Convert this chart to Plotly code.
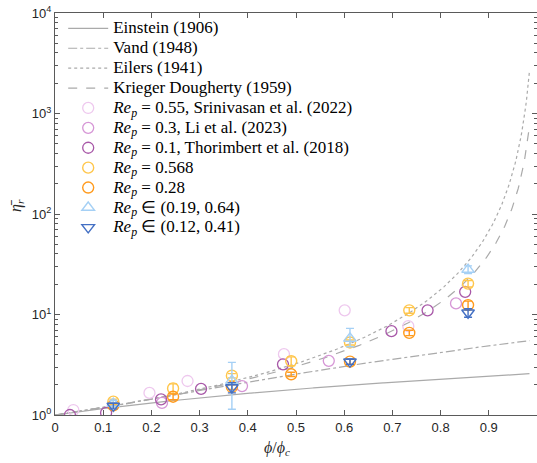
import numpy as np
import plotly.graph_objects as go

# ---------------- data ----------------
phi_c = 0.64
phi_end = 0.63

# Srinivasan et al. (2022), Re_p = 0.55
srin_x = [0.038, 0.196, 0.275, 0.475, 0.601, 0.733]
srin_y = [1.12, 1.66, 2.18, 4.03, 11.0, 7.65]
# Li et al. (2023), Re_p = 0.3
li_x = [0.222, 0.388, 0.568, 0.832]
li_y = [1.32, 1.94, 3.46, 12.9]
# Thorimbert et al. (2018), Re_p = 0.1
tho_x = [0.031, 0.106, 0.220, 0.303, 0.473, 0.698, 0.773, 0.851]
tho_y = [1.0, 1.05, 1.43, 1.82, 3.19, 6.83, 11.0, 16.8]

# Re_p = 0.568
a_x = [0.121, 0.245, 0.367, 0.490, 0.612, 0.735, 0.857]
a_y = [1.36, 1.84, 2.46, 3.44, 5.27, 11.0, 20.3]
a_e = [0.08, 0.20, 0.12, 0.35, 0.30, 0.70, 1.50]
# Re_p = 0.28
b_x = [0.121, 0.245, 0.367, 0.490, 0.612, 0.735, 0.857]
b_y = [1.25, 1.52, 1.90, 2.54, 3.40, 6.56, 12.4]
b_e = [0.05, 0.10, 0.10, 0.12, 0.20, 0.40, 1.20]
# Re_p in (0.19, 0.64)
c_x = [0.121, 0.367, 0.612, 0.857]
c_y = [1.30, 2.20, 5.78, 28.0]
c_ep = [0.10, 1.14, 1.50, 2.50]
c_em = [0.10, 1.06, 1.00, 2.50]
# Re_p in (0.12, 0.41)
d_x = [0.121, 0.367, 0.612, 0.857]
d_y = [1.23, 1.88, 3.39, 10.4]
d_e = [0.08, 0.22, 0.20, 1.00]

x_ticks = [0, 0.1, 0.2, 0.3, 0.4, 0.5, 0.6, 0.7, 0.8, 0.9, 1.0]
x_ticktext = ["0", "0.1", "0.2", "0.3", "0.4", "0.5", "0.6", "0.7", "0.8", "0.9", ""]
y_ticks = [1, 10, 100, 1000, 10000]
y_ticktext = ["10<sup>0</sup>", "10<sup>1</sup>", "10<sup>2</sup>", "10<sup>3</sup>", "10<sup>4</sup>"]

# ---------------- model curves ----------------
phi = np.linspace(0, phi_end, 500)
xr = phi / phi_c
einstein = 1 + 2.5 * phi
vand = 1 + 2.5 * phi + 7.349 * phi ** 2
eilers = (1 + 1.25 * phi / (1 - phi / phi_c)) ** 2
kd = (1 - phi / phi_c) ** (-2.5 * phi_c)

gray = "rgb(170,170,170)"
serif = "Liberation Serif"
sans = "Liberation Sans"


def lbl(s):
    return '<span style="font-size:17px">' + s + '</span>'


fig = go.Figure()
fig.add_trace(go.Scatter(x=xr, y=einstein, mode="lines", name=lbl("Einstein (1906)"),
                         line=dict(color=gray, width=1.2)))
fig.add_trace(go.Scatter(x=xr, y=vand, mode="lines", name=lbl("Vand (1948)"),
                         line=dict(color=gray, width=1.2, dash="dashdot")))
fig.add_trace(go.Scatter(x=xr, y=eilers, mode="lines", name=lbl("Eilers (1941)"),
                         line=dict(color=gray, width=1.2, dash="dot")))
fig.add_trace(go.Scatter(x=xr, y=kd, mode="lines", name=lbl("Krieger Dougherty (1959)"),
                         line=dict(color=gray, width=1.2, dash="dash")))


def circ(x, y, name, color):
    return go.Scatter(x=x, y=y, mode="markers", name=lbl(name),
                      marker=dict(symbol="circle-open", size=11, color=color,
                                  line=dict(width=1.3, color=color)))


fig.add_trace(circ(srin_x, srin_y, "<i>Re</i><sub><i>p</i></sub> = 0.55, Srinivasan et al. (2022)", "rgb(238,200,238)"))
fig.add_trace(circ(li_x, li_y, "<i>Re</i><sub><i>p</i></sub> = 0.3, Li et al. (2023)", "rgb(214,150,214)"))
fig.add_trace(circ(tho_x, tho_y, "<i>Re</i><sub><i>p</i></sub> = 0.1, Thorimbert et al. (2018)", "rgb(168,88,168)"))


def errs(x, y, ep, em, name, color, symbol):
    return go.Scatter(x=x, y=y, mode="markers", name=lbl(name),
                      marker=dict(symbol=symbol, size=11, color=color,
                                  line=dict(width=1.4, color=color)),
                      error_y=dict(type="data", array=ep, arrayminus=em, symmetric=False,
                                   color=color, thickness=1.4, width=4))


fig.add_trace(errs(a_x, a_y, a_e, a_e, "<i>Re</i><sub><i>p</i></sub> = 0.568", "rgb(255,198,75)", "circle-open"))
fig.add_trace(errs(b_x, b_y, b_e, b_e, "<i>Re</i><sub><i>p</i></sub> = 0.28", "rgb(255,155,30)", "circle-open"))
fig.add_trace(errs(c_x, c_y, c_ep, c_em, "<i>Re</i><sub><i>p</i></sub> ∈ (0.19, 0.64)", "rgb(165,208,245)", "triangle-up-open"))
fig.add_trace(errs(d_x, d_y, d_e, d_e, "<i>Re</i><sub><i>p</i></sub> ∈ (0.12, 0.41)", "rgb(68,112,196)", "triangle-down-open"))

axis_col = "rgb(90,90,90)"
minor_vals = [m * 10 ** k for k in range(4) for m in range(2, 10)]

fig.update_layout(
    width=537, height=463,
    margin=dict(l=55, r=0, t=13, b=48),
    plot_bgcolor="white", paper_bgcolor="white",
    showlegend=True,
    legend=dict(x=0.017, y=0.999, xanchor="left", yanchor="top",
                bgcolor="rgba(0,0,0,0)", borderwidth=0,
                font=dict(family=serif, size=13, color="black"),
                itemwidth=40, tracegroupgap=0),
    xaxis=dict(range=[0, 1], tickvals=x_ticks, ticktext=x_ticktext,
               ticks="inside", ticklen=5, tickcolor=axis_col,
               showline=True, linecolor=axis_col, linewidth=1, mirror="ticks",
               showgrid=False, zeroline=False,
               tickfont=dict(family=sans, size=13, color="rgb(38,38,38)")),
    yaxis=dict(type="log", range=[0, 4], tickvals=y_ticks, ticktext=y_ticktext,
               ticks="inside", ticklen=5, tickcolor=axis_col,
               showline=True, linecolor=axis_col, linewidth=1, mirror="ticks",
               showgrid=False, zeroline=False,
               minor=dict(tickvals=minor_vals, ticks="inside", ticklen=3, tickcolor=axis_col),
               tickfont=dict(family=sans, size=13, color="rgb(38,38,38)")),
    annotations=[
        dict(text="<i>ϕ</i>/<i>ϕ</i><sub><i>c</i></sub>", xref="paper", yref="paper",
             x=0.46, y=0, yshift=-33, xanchor="center", yanchor="middle", showarrow=False,
             font=dict(family=serif, size=16, color="rgb(38,38,38)")),
        dict(text="<i>η̄</i><sub><i>r</i></sub>", xref="paper", yref="paper",
             x=0, xshift=-38, y=0.52, xanchor="center", yanchor="middle", showarrow=False,
             textangle=-90, font=dict(family=serif, size=16, color="rgb(38,38,38)")),
    ],
)

fig.write_html("out.html")
